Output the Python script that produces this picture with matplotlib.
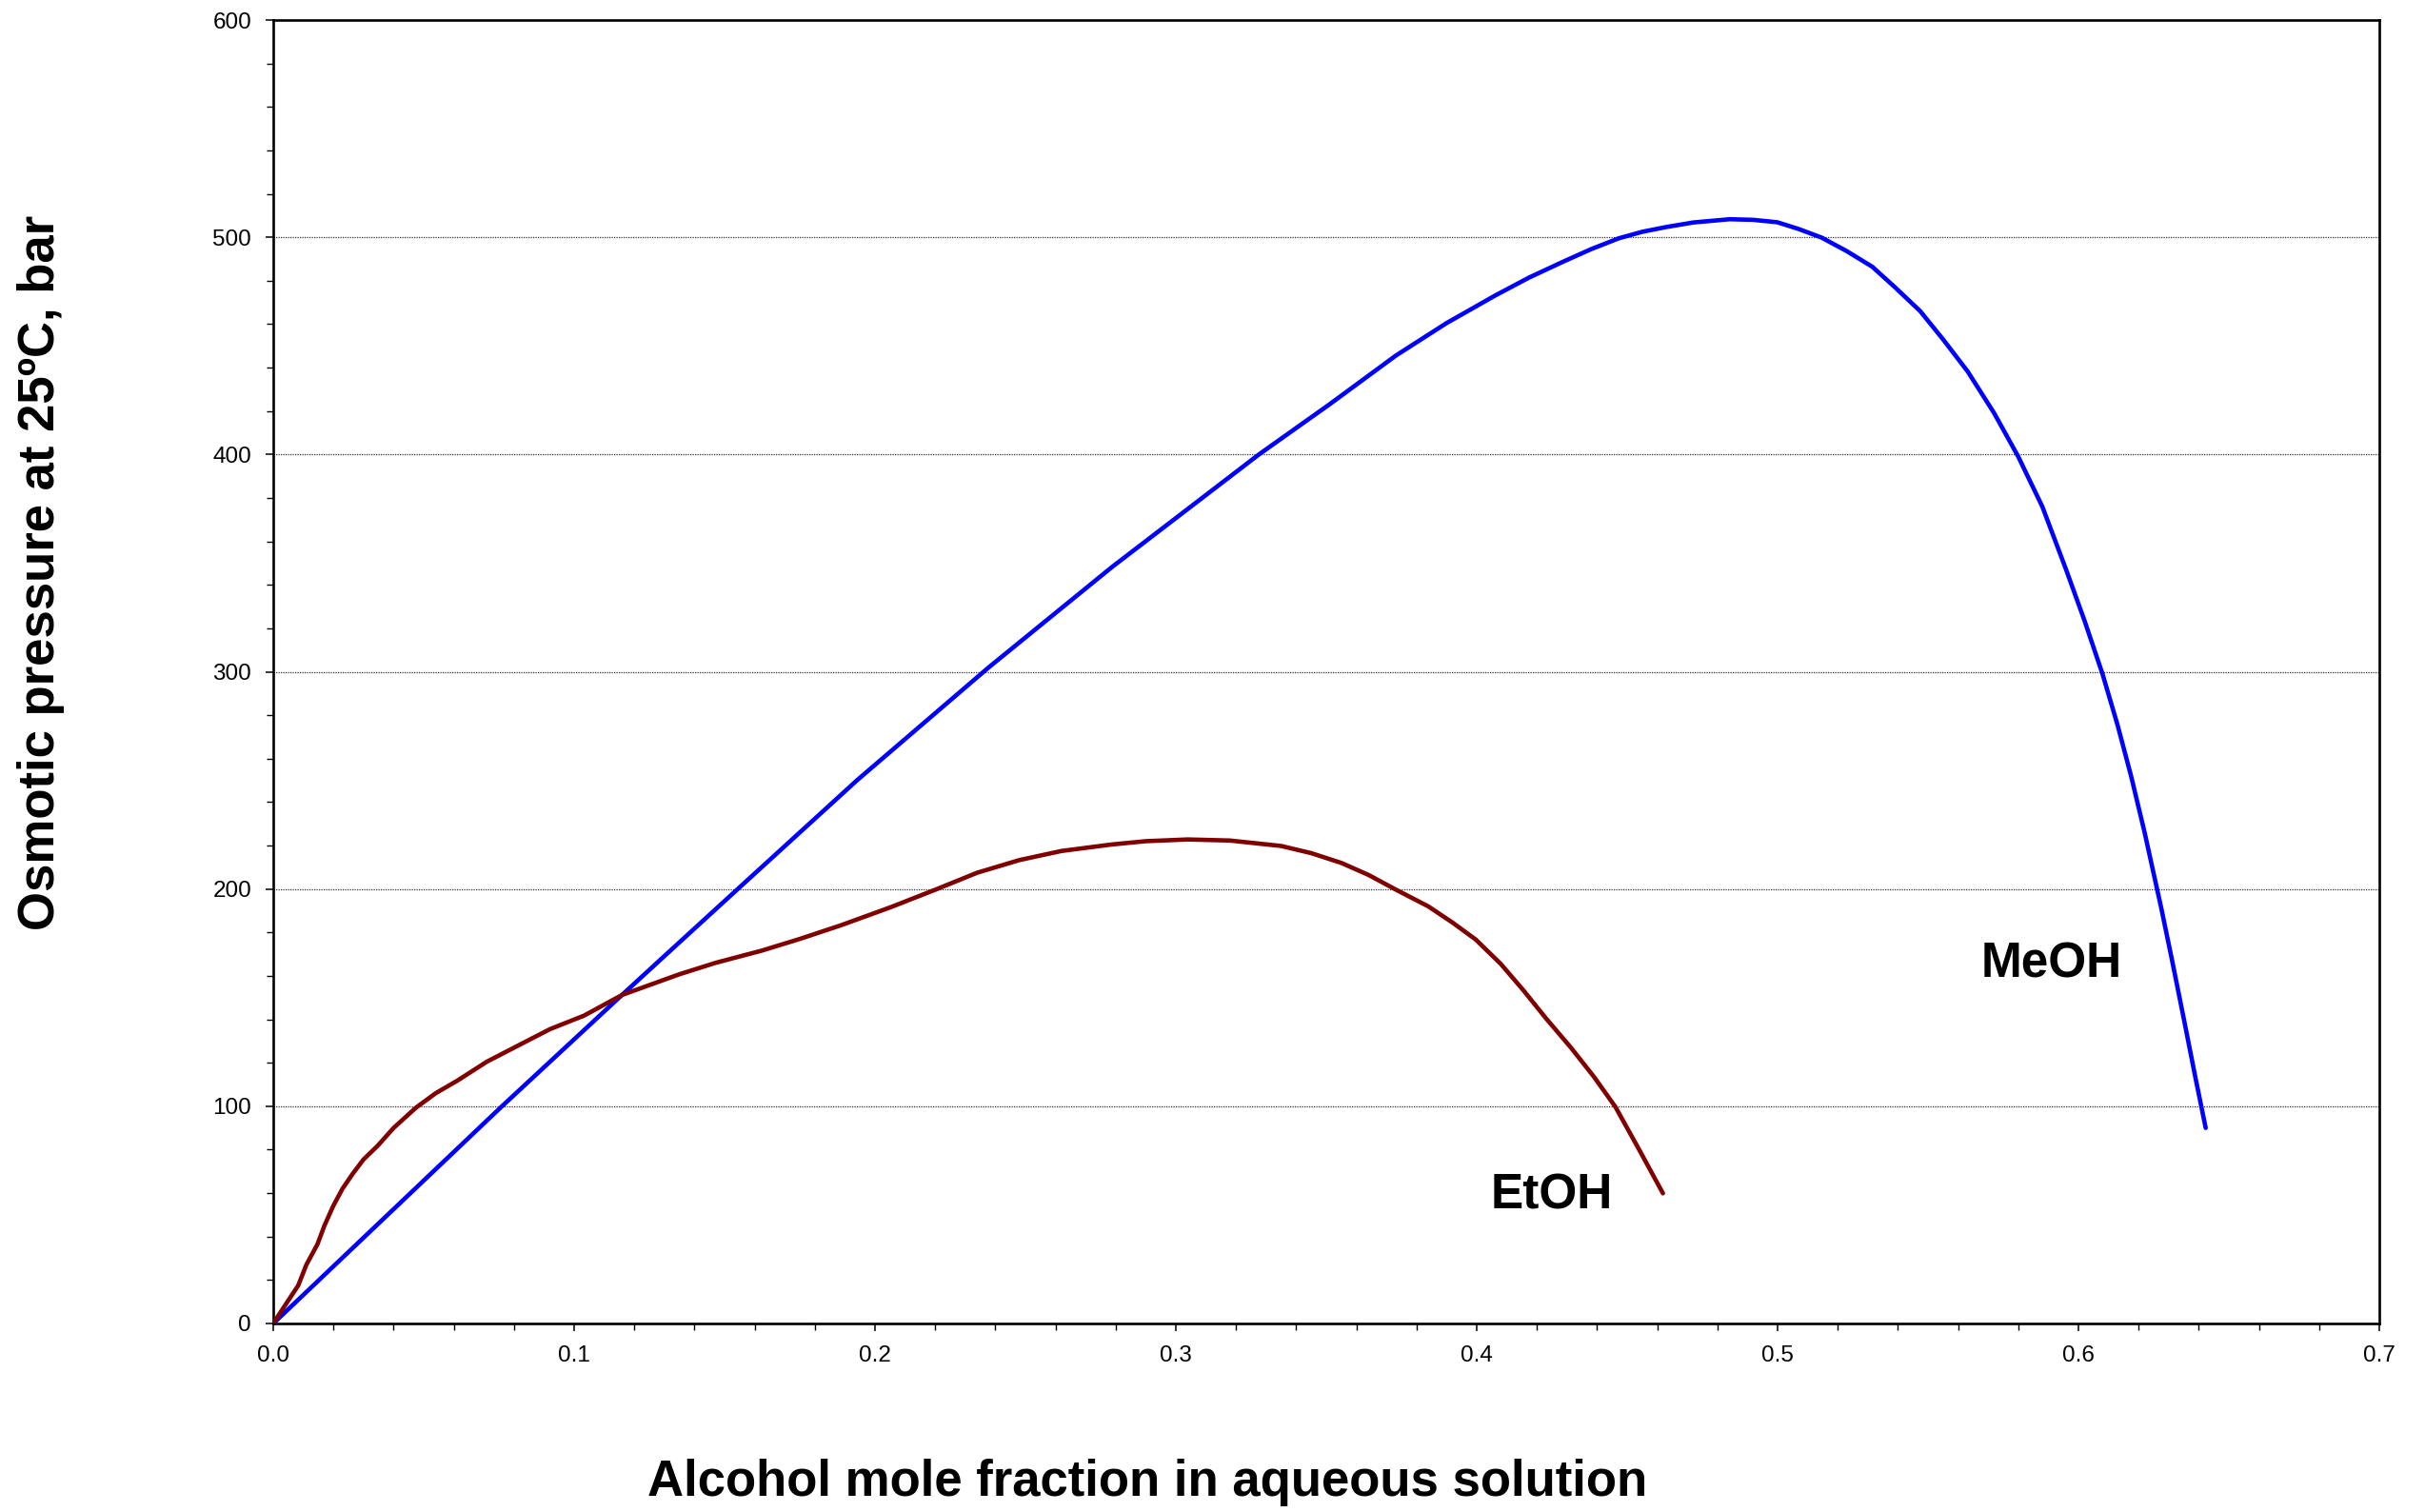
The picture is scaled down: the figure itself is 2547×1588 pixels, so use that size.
import matplotlib
matplotlib.use("Agg")
import matplotlib.pyplot as plt
from matplotlib.ticker import MultipleLocator, FormatStrFormatter

plt.rcParams['font.family'] = ['Liberation Sans', 'DejaVu Sans']

# MeOH curve
meoh_x = [0.0, 0.0758, 0.1159, 0.1307, 0.1544, 0.194, 0.2378, 0.2786, 0.3276,
          0.351, 0.3731, 0.39, 0.4063, 0.4175, 0.4285, 0.438, 0.4472, 0.455,
          0.463, 0.472, 0.4841, 0.492, 0.4999, 0.507, 0.5147, 0.523, 0.5315,
          0.539, 0.5474, 0.555, 0.5632, 0.572, 0.58, 0.588, 0.5959, 0.602,
          0.608, 0.613, 0.6175, 0.622, 0.6275, 0.631, 0.635, 0.639, 0.6423]
meoh_y = [0, 99.7, 151.2, 170, 200, 250, 302, 348, 400,
          423, 445.5, 460.5, 473.3, 481.5, 488.6, 494.5, 499.5, 502.5,
          504.7, 506.8, 508.3, 508, 506.9, 503.8, 499.8, 493.6, 486.4,
          477, 466, 453, 438.2, 419, 399, 376, 347, 323.6,
          299, 275.5, 252, 226, 191.4, 168, 140.4, 112.4, 90]

# EtOH curve
etoh_x = [0.0, 0.004, 0.0083, 0.011, 0.0147, 0.017, 0.0199, 0.023, 0.0263,
          0.030, 0.0347, 0.040, 0.0474, 0.054, 0.0611, 0.071, 0.0822, 0.092,
          0.1033, 0.1159, 0.1349, 0.147, 0.1623, 0.175, 0.1887, 0.205, 0.2203,
          0.234, 0.248, 0.262, 0.2788, 0.29, 0.304, 0.318, 0.335, 0.345,
          0.355, 0.364, 0.373, 0.3839, 0.392, 0.3997, 0.408, 0.4155, 0.423,
          0.4313, 0.439, 0.4461, 0.454, 0.4619]
etoh_y = [0, 8.5, 17.5, 27, 36.5, 45, 54, 62, 68.7,
          75.5, 81.8, 90, 99.3, 106, 111.7, 120.5, 128.5, 135.5,
          141.7, 151.2, 160.7, 166, 171.6, 177, 183.3, 191.5, 199.8,
          207.5, 213.3, 217.5, 220.5, 222, 222.8, 222.3, 219.8, 216.5,
          212, 206.5, 199.8, 192, 184.5, 176.7, 165.5, 153.4, 140.5,
          127, 113.5, 99.7, 80, 59.9]

W, H = 2547, 1588
fig = plt.figure(figsize=(W / 100, H / 100), dpi=100)
ax = fig.add_axes([287 / W, 1 - 1390 / H, (2499 - 287) / W, (1390 - 21) / H])

ax.plot(meoh_x, meoh_y, color='#0000ff', lw=3.3, solid_capstyle='round',
        solid_joinstyle='round', zorder=3)
ax.plot(etoh_x, etoh_y, color='#800000', lw=3.3, solid_capstyle='round',
        solid_joinstyle='round', zorder=3)

ax.set_xlim(0, 0.7)
ax.set_ylim(0, 600)
ax.xaxis.set_major_locator(MultipleLocator(0.1))
ax.xaxis.set_minor_locator(MultipleLocator(0.02))
ax.yaxis.set_major_locator(MultipleLocator(100))
ax.yaxis.set_minor_locator(MultipleLocator(20))
ax.xaxis.set_major_formatter(FormatStrFormatter('%.1f'))
ax.yaxis.set_major_formatter(FormatStrFormatter('%d'))

ax.grid(axis='y', which='major', color='#333333', ls=(0, (1, 1)), lw=0.9)
ax.set_axisbelow(True)

for s in ax.spines.values():
    s.set_linewidth(1.9)
ax.tick_params(which='major', direction='out', length=5.5, width=1.1,
               labelsize=17.5, pad=11)
ax.tick_params(which='minor', direction='out', length=4.8, width=1.0)

ax.text(0.425, 52.6, 'EtOH', fontsize=37, fontweight='bold', ha='center', va='baseline')
ax.text(0.5911, 159.5, 'MeOH', fontsize=37, fontweight='bold', ha='center', va='baseline')

fig.text(1205 / W, 1 - 1557 / H, 'Alcohol mole fraction in aqueous solution',
         fontsize=38, fontweight='bold', ha='center', va='center')
fig.text(43 / W, 1 - 601 / H, 'Osmotic pressure at 25ºC, bar',
         fontsize=38, fontweight='bold', ha='center', va='center', rotation=90)

fig.savefig('out.png', dpi=100)
